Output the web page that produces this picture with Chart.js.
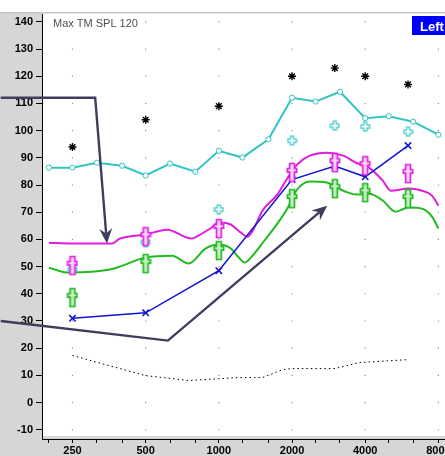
<!DOCTYPE html>
<html><head><meta charset="utf-8">
<script src="https://cdn.jsdelivr.net/npm/chart.js@4/dist/chart.umd.min.js"></script>
<style>html,body{margin:0;padding:0;overflow:hidden;background:#fff;width:445px;height:456px}canvas{display:block}</style>
</head><body>
<canvas id="c" width="470" height="456" style="width:470px;height:456px"></canvas>
<script>
// ---- tick labels ----
const yTicks = [-10,0,10,20,30,40,50,60,70,80,90,100,110,120,130,140];
const xTickFreqs = [200,250,315,400,500,630,800,1000,1250,1600,2000,2500,3150,4000,5000,6300,8000,10000];
const xLabelFreqs = [250,500,1000,2000,4000,8000];

// ---- audiometric markers ----
const markFreqs = [250,500,1000,2000,3000,4000,6000];
const uclStars = [94,104,109,120,123,120,117];
const thresholdX = [31,33,48.5,82,87,83,94.5];
const cyanPlus = [49,59,71,96.3,101.8,101.5,99.6];
const magentaMarks = [50.4,61,64,84.6,88.2,87.1,84.2];
const greenMarks = [38.6,51.1,55.9,75,78.7,77.2,75];

// ---- curves ----
const cyanFreqs = [200,250,315,400,500,630,800,1000,1250,1600,2000,2500,3150,4000,5000,6300,8000];
const cyanVals = [86.4,86.4,88.2,87.1,83.5,87.9,84.9,92.6,90.1,96.8,112.1,110.7,114.3,104.6,105.3,103.3,98.5];

const magentaFreqs = [200,250,363,391,500,612,773,824,932,1000,1123,1232,1316,1378,1513,1740,1911,2097,2368,2775,3252,3670,4144,4723,5088,6020,6860,7530,8000];
const magentaVals = [58.8,58.5,58.5,60.3,61.8,63.6,60.3,61.4,64.3,66.2,65.4,62.5,61.0,63.2,70.6,76.5,82.4,87.5,90.8,91.9,90.8,88.2,86.4,81.6,77.9,78.7,77.9,76.1,72.4];

const greenFreqs = [200,241,356,500,641,752,881,1000,1123,1198,1279,1353,1541,1740,1911,2097,2368,2775,3252,3670,4144,4723,5332,6020,6860,7530,8000];
const greenVals = [49.6,47.8,48.9,53.3,54.0,51.1,56.6,58.1,56.6,53.7,51.5,53.3,59.6,65.8,71.3,78.3,81.3,80.9,77.9,76.5,76.8,74.3,70.2,71.7,71.3,68.4,64.0];

const dottedFreqs = [250,500,752,1198,1513,1826,2000,3000,3772,6018];
const dottedVals = [17.3,9.9,8.1,9.2,9.2,12.1,12.5,12.5,14.7,15.8];

// ---- annotation arrows (data units) ----
const arrow1Freqs = [126.7,310,346.5];
const arrow1Vals = [112.1,112.1,58.5];
const arrow2Freqs = [126.7,617,2790];
const arrow2Vals = [30,22.8,72.4];

const gridFreqs = [250,500,1000,2000,4000,8000];

const pts = (xs, ys) => xs.map((x, i) => ({x, y: ys[i]}));

function makeDagger(stroke, fill) {
  const c = document.createElement('canvas'); c.width = 12; c.height = 21;
  const g = c.getContext('2d');
  const cx = 6, w = 2.4, top = 1.5, bot = 19.5, y1 = 6.5, y2 = 10.2, hw = 4.6;
  g.beginPath();
  g.moveTo(cx-w, top); g.lineTo(cx+w, top); g.lineTo(cx+w, y1); g.lineTo(cx+hw, y1);
  g.lineTo(cx+hw, y2); g.lineTo(cx+w, y2); g.lineTo(cx+w, bot); g.lineTo(cx-w, bot);
  g.lineTo(cx-w, y2); g.lineTo(cx-hw, y2); g.lineTo(cx-hw, y1); g.lineTo(cx-w, y1); g.closePath();
  g.fillStyle = fill; g.fill();
  g.lineWidth = 1.7; g.strokeStyle = stroke; g.stroke();
  return c;
}
function makeCross(stroke, fill) {
  const c = document.createElement('canvas'); c.width = 11; c.height = 11;
  const g = c.getContext('2d');
  const cx = 5.5, a = 1.6, h = 4.3;
  g.beginPath();
  g.moveTo(cx-a, cx-h); g.lineTo(cx+a, cx-h); g.lineTo(cx+a, cx-a); g.lineTo(cx+h, cx-a);
  g.lineTo(cx+h, cx+a); g.lineTo(cx+a, cx+a); g.lineTo(cx+a, cx+h); g.lineTo(cx-a, cx+h);
  g.lineTo(cx-a, cx+a); g.lineTo(cx-h, cx+a); g.lineTo(cx-h, cx-a); g.lineTo(cx-a, cx-a); g.closePath();
  g.fillStyle = fill; g.fill();
  g.lineWidth = 1.2; g.strokeStyle = stroke; g.stroke();
  return c;
}
const magentaDagger = makeDagger('#e020e0', '#fbd8fb');
const greenDagger = makeDagger('#22b822', '#c8f0c8');
const cyanCross = makeCross('#38c8c8', '#ffffff');

const GRAY = '#d6d6d6';
const bgPlugin = {
  id: 'bg',
  beforeDraw(chart) {
    const {ctx, chartArea: a, width, height} = chart;
    ctx.save();
    ctx.fillStyle = '#ffffff'; ctx.fillRect(0, 0, width, height);
    ctx.fillStyle = GRAY;
    ctx.fillRect(0, a.top - 1, a.left, height);
    ctx.fillRect(0, a.bottom - 3, width, height);
    ctx.fillStyle = '#c4c4c4'; ctx.fillRect(0, a.top - 2, width, 1.5);
    ctx.restore();
  }
};
function drawArrow(chart, fx, fy) {
  const {ctx, scales: {x, y}} = chart;
  const p = fx.map((f, i) => [x.getPixelForValue(f), y.getPixelForValue(fy[i])]);
  const n = p.length;
  const [tx, ty] = p[n-1], [px, py] = p[n-2];
  const ang = Math.atan2(ty - py, tx - px);
  const L = 15, W = 6.5, N = 10;
  ctx.save();
  ctx.strokeStyle = '#3d3d5e'; ctx.fillStyle = '#3d3d5e';
  ctx.lineWidth = 2.4; ctx.lineJoin = 'miter';
  ctx.beginPath();
  ctx.moveTo(p[0][0], p[0][1]);
  for (let i = 1; i < n - 1; i++) ctx.lineTo(p[i][0], p[i][1]);
  ctx.lineTo(tx - Math.cos(ang) * N, ty - Math.sin(ang) * N);
  ctx.stroke();
  ctx.translate(tx, ty); ctx.rotate(ang);
  ctx.beginPath();
  ctx.moveTo(0, 0); ctx.lineTo(-L, -W); ctx.lineTo(-N, 0); ctx.lineTo(-L, W); ctx.closePath();
  ctx.fill();
  ctx.restore();
}
const annPlugin = {
  id: 'ann',
  afterDatasetsDraw(chart) {
    drawArrow(chart, arrow1Freqs, arrow1Vals);
    drawArrow(chart, arrow2Freqs, arrow2Vals);
  },
  afterDraw(chart) {
    const {ctx, chartArea: a} = chart;
    ctx.save();
    ctx.fillStyle = '#505050';
    ctx.font = '11px "Liberation Sans", Arial, sans-serif';
    ctx.textBaseline = 'alphabetic';
    ctx.fillText('Max TM SPL 120', a.left + 11, a.top + 13);
    ctx.fillStyle = '#0000ff';
    ctx.fillRect(412, a.top + 2, 60, 19);
    ctx.fillStyle = '#ffffff';
    ctx.font = 'bold 13px "Liberation Sans", Arial, sans-serif';
    ctx.fillText('Left', 420, a.top + 17);
    ctx.restore();
  }
};

const gridPts = [];
gridFreqs.forEach(f => yTicks.forEach(v => gridPts.push({x: f, y: v})));

new Chart(document.getElementById('c'), {
  type: 'line',
  data: {
    datasets: [
      {data: pts(markFreqs, magentaMarks), showLine: false, pointStyle: magentaDagger, pointRadius: 6, borderColor: '#e020e0'},
      {data: pts(markFreqs, greenMarks), showLine: false, pointStyle: greenDagger, pointRadius: 6, borderColor: '#22b822'},
      {data: pts(markFreqs, cyanPlus), showLine: false, pointStyle: cyanCross, pointRadius: 5, borderColor: '#38c8c8'},
      {data: pts(markFreqs, uclStars), showLine: false, pointStyle: 'star', pointRadius: 4, pointBorderWidth: 1.4, borderColor: '#000', backgroundColor: '#000'},
      {data: pts(markFreqs, thresholdX), borderColor: '#1414d2', borderWidth: 1.6, tension: 0, pointStyle: 'crossRot', pointRadius: 4.5, pointBorderWidth: 1.6, pointBorderColor: '#1414d2'},
      {data: pts(cyanFreqs, cyanVals), borderColor: '#30c4c4', borderWidth: 2, tension: 0, pointStyle: 'circle', pointRadius: 2.6, pointBorderWidth: 1, pointBorderColor: '#30c4c4', pointBackgroundColor: '#ffffff'},
      {data: pts(magentaFreqs, magentaVals), borderColor: '#e01ee0', borderWidth: 2, tension: 0.4, cubicInterpolationMode: 'monotone', pointRadius: 0},
      {data: pts(greenFreqs, greenVals), borderColor: '#22bb22', borderWidth: 2, tension: 0.4, cubicInterpolationMode: 'monotone', pointRadius: 0},
      {data: pts(dottedFreqs, dottedVals), borderColor: '#000000', borderWidth: 1, borderDash: [1.5, 3], tension: 0, pointRadius: 0},
      {data: gridPts, showLine: false, pointStyle: 'rect', pointRadius: 0.8, pointBorderWidth: 0, pointBackgroundColor: '#8c8c8c', borderColor: '#8c8c8c'}
    ]
  },
  options: {
    responsive: false,
    devicePixelRatio: 1,
    animation: false,
    events: [],
    layout: {padding: {top: 14, right: 0, left: 0, bottom: 0}},
    plugins: {legend: {display: false}, tooltip: {enabled: false}},
    font: {family: '"Liberation Sans", Arial, sans-serif'},
    scales: {
      x: {
        type: 'logarithmic', min: 187.3, max: 10100,
        afterBuildTicks: s => { s.ticks = xTickFreqs.map(v => ({value: v})); },
        afterFit: s => { s.height = 17; },
        ticks: {
          autoSkip: false, maxRotation: 0, minRotation: 0, padding: 1, color: '#000',
          font: {family: '"Liberation Sans", Arial, sans-serif', size: 11, weight: 'bold'},
          callback: v => xLabelFreqs.includes(v) ? String(v) : ''
        },
        grid: {drawOnChartArea: false, drawTicks: true, tickLength: 4, color: '#000', lineWidth: 1},
        border: {display: true, color: '#000', width: 1}
      },
      y: {
        type: 'linear', min: -13.4, max: 142.9,
        afterBuildTicks: s => { s.ticks = yTicks.map(v => ({value: v})); },
        afterFit: s => { s.width = 42; },
        ticks: {
          padding: 3, color: '#000',
          font: {family: '"Liberation Sans", Arial, sans-serif', size: 11, weight: 'bold'},
          callback: v => String(v)
        },
        grid: {drawOnChartArea: false, drawTicks: true, tickLength: 6, color: '#000', lineWidth: 1},
        border: {display: true, color: '#000', width: 1}
      }
    }
  },
  plugins: [bgPlugin, annPlugin]
});
</script>
</body></html>
